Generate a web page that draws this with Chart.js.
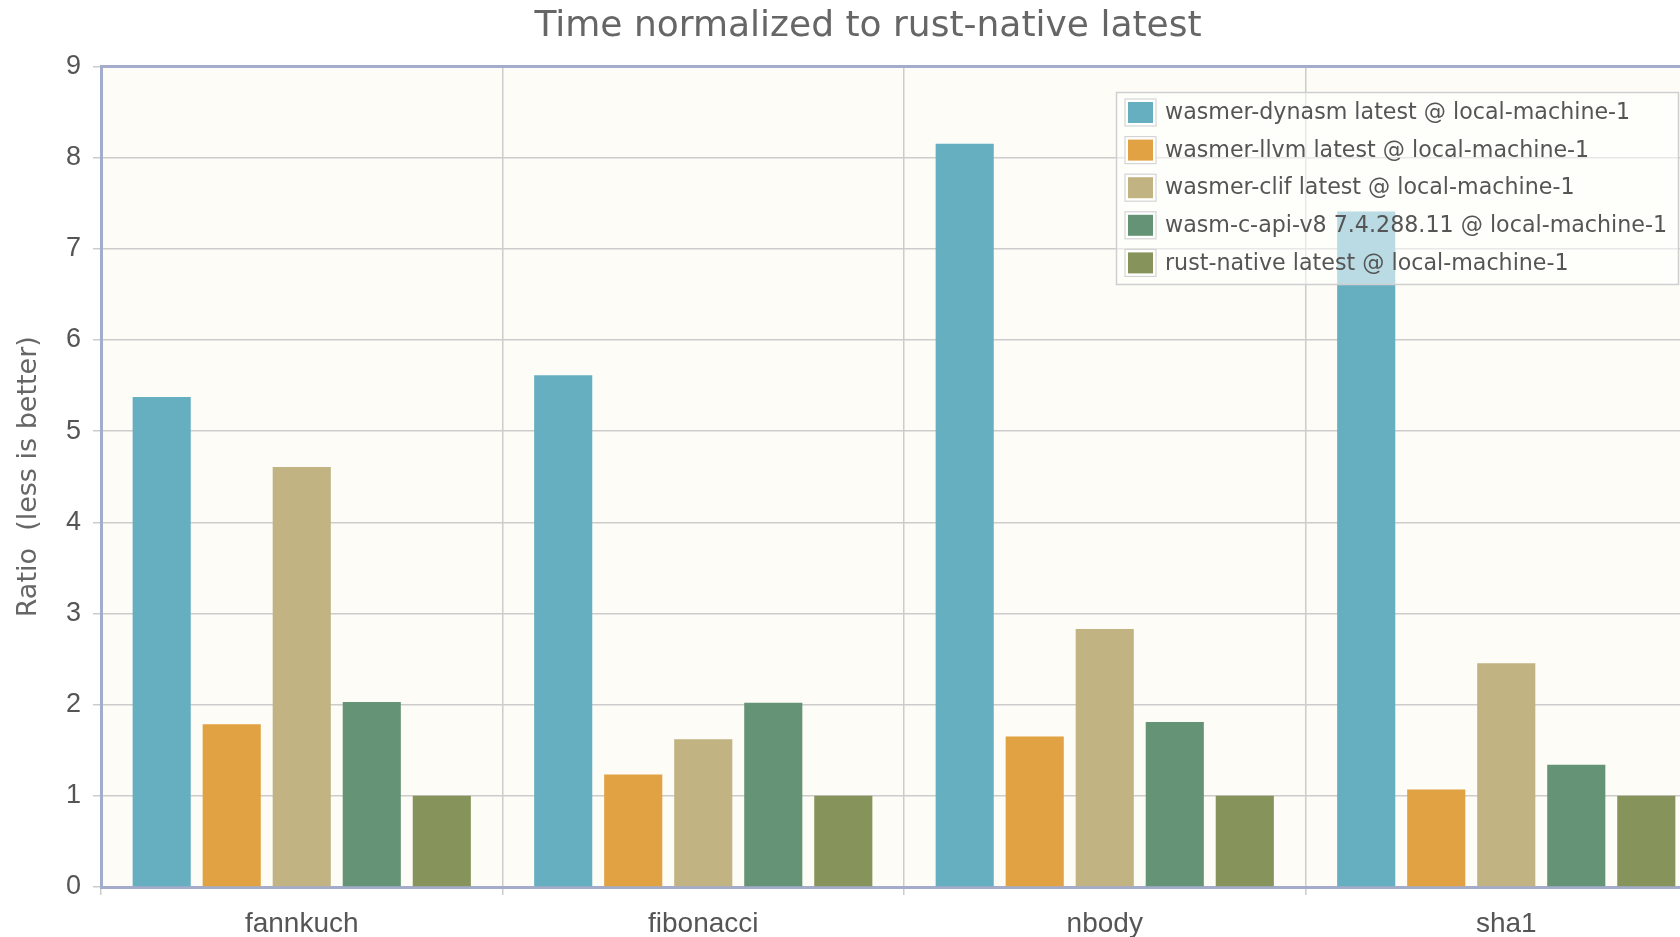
<!DOCTYPE html>
<html>
<head>
<meta charset="utf-8">
<script src="https://cdn.jsdelivr.net/npm/chart.js@4/dist/chart.umd.min.js"></script>
<style>
  html, body { margin: 0; padding: 0; background: #ffffff; overflow: hidden; width: 1680px; height: 937px; }
  #wrap { position: absolute; left: 0; top: 0; width: 1736px; height: 937px; }
</style>
</head>
<body>
<div id="wrap"><canvas id="c" width="1736" height="937"></canvas></div>
<script>
const categories = ["fannkuch", "fibonacci", "nbody", "sha1"];
const seriesNames = [
  "wasmer-dynasm latest @ local-machine-1",
  "wasmer-llvm latest @ local-machine-1",
  "wasmer-clif latest @ local-machine-1",
  "wasm-c-api-v8 7.4.288.11 @ local-machine-1",
  "rust-native latest @ local-machine-1"
];
const dynasm = [5.375, 5.613, 8.153, 7.41];
const llvm   = [1.786, 1.234, 1.65, 1.07];
const clif   = [4.607, 1.62, 2.83, 2.455];
const v8     = [2.03, 2.02, 1.81, 1.34];
const rust   = [1.0, 1.0, 1.0, 1.0];
const seriesColors = ["#66AFC1", "#E0A242", "#C2B383", "#659376", "#86935A"];
const yTicks = [0, 1, 2, 3, 4, 5, 6, 7, 8, 9];

const HUMAN = '"DejaVu Sans", "Noto Sans", sans-serif';
const AXISFONT = '"Liberation Sans", Arial, sans-serif';
const PLOT_BG = "#FDFCF7";
const FRAME = "#A3ADCB";

const plotFrame = {
  id: "plotFrame",
  beforeDraw(chart) {
    const a = chart.chartArea, ctx = chart.ctx;
    ctx.save();
    ctx.fillStyle = PLOT_BG;
    ctx.fillRect(a.left, a.top, a.right - a.left, a.bottom - a.top);
    ctx.restore();
  },
  afterDraw(chart) {
    const a = chart.chartArea, ctx = chart.ctx;
    ctx.save();
    ctx.strokeStyle = FRAME;
    ctx.lineWidth = 3;
    ctx.beginPath();
    ctx.moveTo(a.left, a.top);
    ctx.lineTo(a.right, a.top);
    ctx.lineTo(a.right, a.bottom);
    ctx.stroke();
    ctx.restore();
  }
};

const boxLegend = {
  id: "boxLegend",
  afterDraw(chart) {
    const ctx = chart.ctx;
    const x0 = 1116.5, y0 = 92.5, w = 562, h = 192;
    ctx.save();
    ctx.fillStyle = "rgba(255,255,255,0.55)";
    ctx.fillRect(x0, y0, w, h);
    ctx.strokeStyle = "#cfcfcf";
    ctx.lineWidth = 1.5;
    ctx.strokeRect(x0, y0, w, h);
    ctx.font = "22.2px " + HUMAN;
    ctx.textBaseline = "middle";
    chart.data.datasets.forEach((ds, i) => {
      const cy = 112.5 + i * 37.6;
      ctx.fillStyle = "#ffffff";
      ctx.fillRect(1125, cy - 13.5, 31, 27);
      ctx.strokeStyle = "#d4d4d4";
      ctx.lineWidth = 1.2;
      ctx.strokeRect(1125, cy - 13.5, 31, 27);
      ctx.fillStyle = ds.backgroundColor;
      ctx.fillRect(1128, cy - 10.5, 25, 21);
      ctx.fillStyle = "#555555";
      ctx.fillText(ds.label, 1165, cy + 1);
    });
    ctx.restore();
  }
};

const seriesData = [dynasm, llvm, clif, v8, rust];

new Chart(document.getElementById("c"), {
  type: "bar",
  data: {
    labels: categories,
    datasets: seriesNames.map((name, i) => ({
      label: name,
      data: seriesData[i],
      backgroundColor: seriesColors[i],
      borderWidth: 0,
      categoryPercentage: 0.872,
      barPercentage: 0.83
    }))
  },
  options: {
    responsive: false,
    animation: false,
    devicePixelRatio: 1,
    layout: { padding: { left: 29, right: 29, top: 0, bottom: 0 } },
    plugins: {
      legend: { display: false },
      tooltip: { enabled: false },
      title: {
        display: true,
        text: "Time normalized to rust-native latest",
        color: "#666666",
        font: { family: HUMAN, size: 36, weight: "normal", lineHeight: 1.2 },
        padding: { top: 4.8, bottom: 18.5 }
      }
    },
    scales: {
      x: {
        grid: { color: "#cccccc", lineWidth: 1.5, tickLength: 8, offset: true },
        border: { color: FRAME, width: 3 },
        ticks: { color: "#555555", font: { family: AXISFONT, size: 28 }, padding: 12 },
        afterFit(scale) { scale.height = 50; }
      },
      y: {
        min: 0, max: 9,
        afterBuildTicks(scale) { scale.ticks = yTicks.map(v => ({ value: v })); },
        grid: { color: "#cccccc", lineWidth: 1.5, tickLength: 8 },
        border: { color: FRAME, width: 3 },
        ticks: { color: "#555555", font: { family: AXISFONT, size: 27 }, padding: 12 },
        title: {
          display: true,
          text: "Ratio  (less is better)",
          color: "#666666",
          font: { family: HUMAN, size: 27 },
          padding: { top: -16, bottom: 0 }
        },
        afterFit(scale) { scale.width = 72; }
      }
    }
  },
  plugins: [plotFrame, boxLegend]
});
</script>
</body>
</html>
